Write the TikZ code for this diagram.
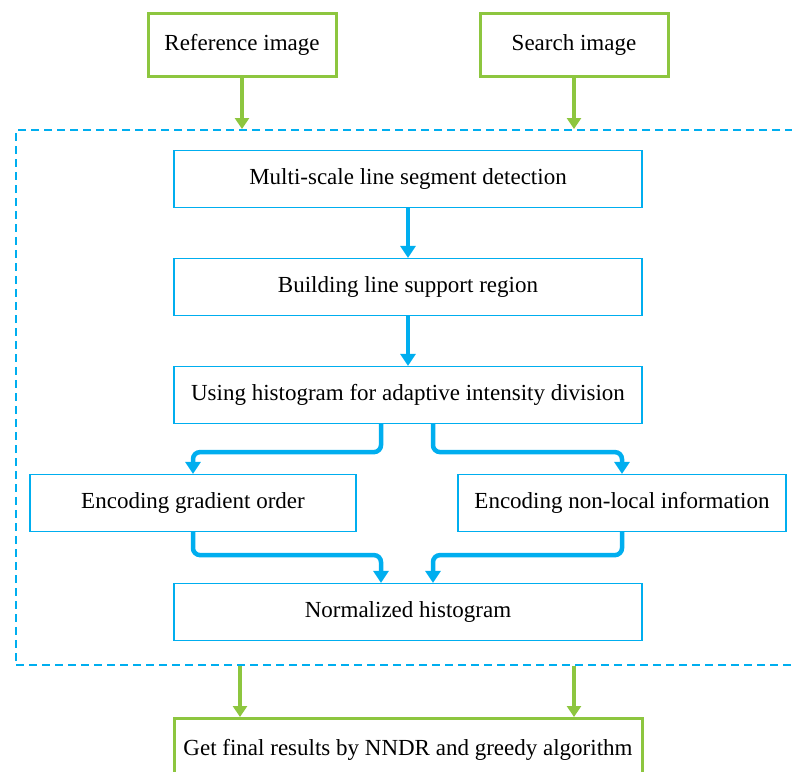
\documentclass[tikz,border=0pt]{standalone}
\usepackage{fontspec}
\setmainfont{Liberation Serif}
\usetikzlibrary{arrows.meta}
\definecolor{lineblue}{HTML}{00AEEF}
\definecolor{leafgreen}{HTML}{8DC63F}
\tikzset{
  greenbox/.style={draw=leafgreen, line width=3pt, fill=white, minimum height=63pt, inner sep=0pt},
  bluebox/.style={draw=lineblue, line width=1.2pt, fill=white, minimum height=57pt, inner sep=0pt},
  dashbox/.style={draw=lineblue, line width=2pt, dash pattern=on 8pt off 5pt, inner sep=0pt},
  flow/.style={draw=lineblue, line width=4.5pt, rounded corners=7pt, -{Triangle[width=15pt,length=12pt]}},
  feed/.style={draw=leafgreen, line width=4pt, -{Triangle[width=14pt,length=11pt]}}
}
\begin{document}
\begin{tikzpicture}[x=1pt, y=-1pt, font=\fontsize{23}{27}\selectfont]
    \clip (0,0) rectangle (792,771);
    % inputs
    \node[greenbox, minimum width=188pt] (ref) at (242,45) {Reference image};
    \node[greenbox, minimum width=188pt] (srch) at (574,45) {Search image};
    % dashed frame round the descriptor steps
    \node[dashbox, minimum width=784pt, minimum height=535pt] (frame) at (408,397.5) {};
    % descriptor steps
    \node[bluebox, minimum width=468pt] (detect) at (408,179) {Multi-scale line segment detection};
    \node[bluebox, minimum width=468pt] (region) at (408,287) {Building line support region};
    \node[bluebox, minimum width=468pt] (hist) at (408,395) {Using histogram for adaptive intensity division};
    \node[bluebox, minimum width=326pt] (grad) at (193,503) {Encoding gradient order};
    \node[bluebox, minimum width=328pt] (nonloc) at (622,503) {Encoding non-local information};
    \node[bluebox, minimum width=468pt] (norm) at (408,612) {Normalized histogram};
    % matching
    \node[greenbox, minimum width=468pt] (final) at (408,750) {Get final results by NNDR and greedy algorithm};

    \draw[feed] (ref.south) -- (ref.south |- frame.north);
    \draw[feed] (srch.south) -- (srch.south |- frame.north);
    \draw[flow] (detect) -- (region);
    \draw[flow] (region) -- (hist);
    \draw[flow] ([xshift=-27pt]hist.south) -- ++(0,28) -| (grad.north);
    \draw[flow] ([xshift=25pt]hist.south) -- ++(0,28) -| (nonloc.north);
    \draw[flow] (grad.south) -- ++(0,23) -| ([xshift=-27pt]norm.north);
    \draw[flow] (nonloc.south) -- ++(0,23) -| ([xshift=25pt]norm.north);
    \draw[feed] (frame.south -| 240,0) -- (final.north -| 240,0);
    \draw[feed] (frame.south -| 574,0) -- (final.north -| 574,0);
\end{tikzpicture}
\end{document}
